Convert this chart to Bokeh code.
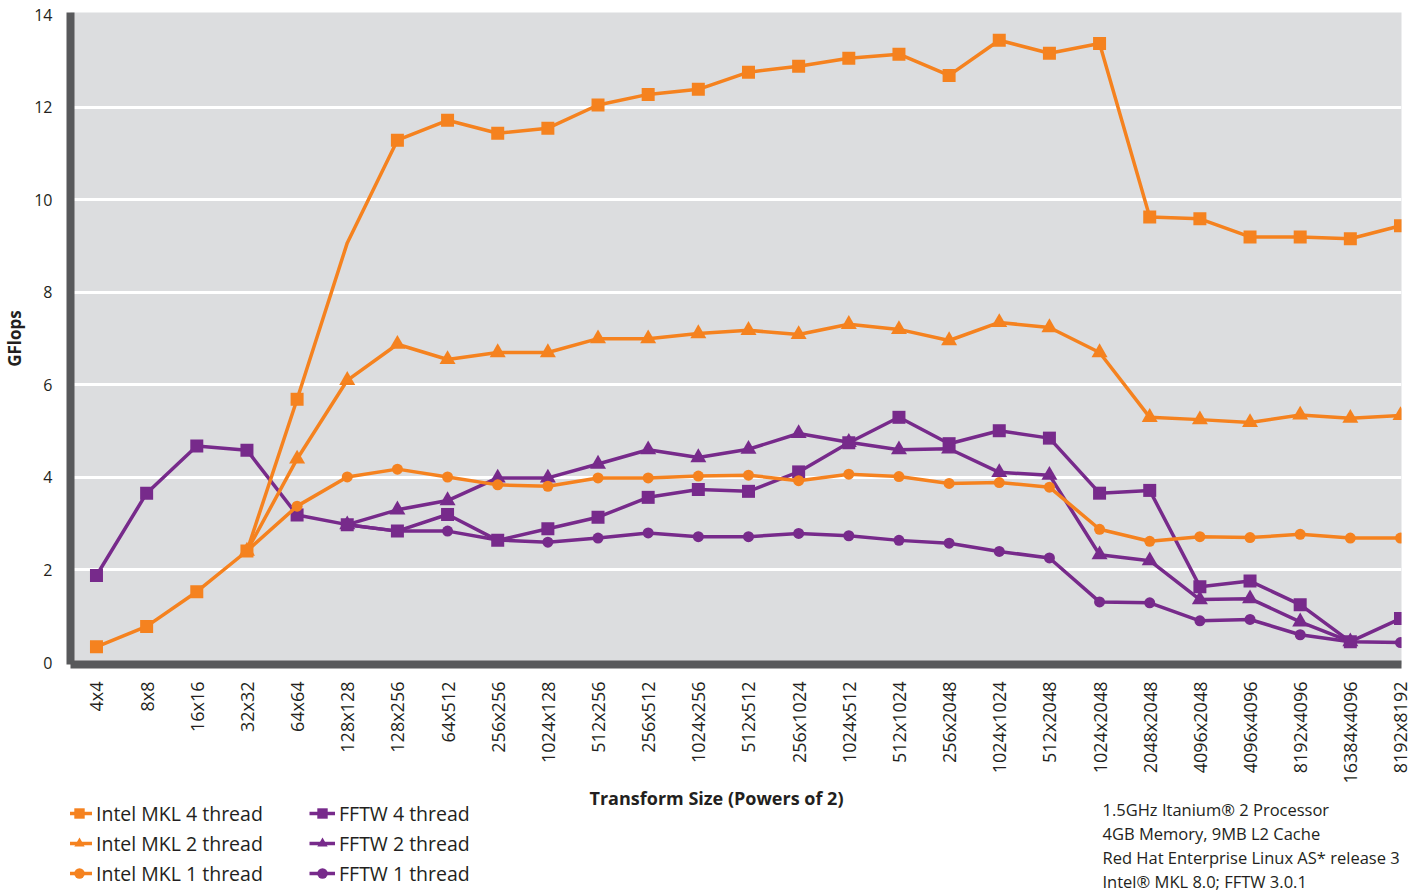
import math
from bokeh.plotting import figure
from bokeh.layouts import column
from bokeh.models import Range1d, FixedTicker, Legend, LegendItem, Label
from bokeh.embed import file_html
from bokeh.resources import INLINE

NAN = float("nan")

sizes = ["4x4", "8x8", "16x16", "32x32", "64x64", "128x128", "128x256", "64x512",
         "256x256", "1024x128", "512x256", "256x512", "1024x256", "512x512",
         "256x1024", "1024x512", "512x1024", "256x2048", "1024x1024", "512x2048",
         "1024x2048", "2048x2048", "4096x2048", "4096x4096", "8192x4096",
         "16384x4096", "8192x8192"]

mkl_4 = [0.34, 0.78, 1.53, 2.41, 5.69, 9.07, 11.29, 11.72, 11.44, 11.55, 12.05,
         12.28, 12.39, 12.76, 12.89, 13.06, 13.15, 12.69, 13.45, 13.17, 13.38,
         9.63, 9.59, 9.20, 9.20, 9.16, 9.44]
mkl_2 = [NAN, NAN, NAN, 2.41, 4.40, 6.10, 6.88, 6.55, 6.70, 6.70, 7.00, 7.00,
         7.11, 7.18, 7.09, 7.31, 7.20, 6.96, 7.35, 7.24, 6.70, 5.30, 5.25, 5.19,
         5.35, 5.28, 5.34]
mkl_1 = [NAN, NAN, NAN, 2.41, 3.38, 4.01, 4.18, 4.01, 3.84, 3.81, 3.99, 3.99,
         4.03, 4.05, 3.93, 4.07, 4.02, 3.87, 3.89, 3.79, 2.88, 2.62, 2.72, 2.70,
         2.77, 2.69, 2.69]
fftw_4 = [1.88, 3.66, 4.68, 4.59, 3.19, 2.98, 2.84, 3.20, 2.64, 2.89, 3.14, 3.57,
          3.74, 3.70, 4.12, 4.75, 5.30, 4.73, 5.01, 4.85, 3.66, 3.72, 1.64, 1.76,
          1.25, 0.45, 0.95]
fftw_2 = [NAN, NAN, NAN, NAN, NAN, 2.98, 3.30, 3.50, 3.99, 3.99, 4.29, 4.60,
          4.43, 4.61, 4.95, 4.76, 4.60, 4.62, 4.11, 4.05, 2.33, 2.20, 1.36, 1.38,
          0.88, 0.45, NAN]
fftw_1 = [NAN, NAN, NAN, NAN, NAN, 2.98, 2.84, 2.84, 2.65, 2.60, 2.69, 2.80,
          2.72, 2.72, 2.79, 2.74, 2.64, 2.58, 2.40, 2.26, 1.31, 1.29, 0.90, 0.93,
          0.60, 0.45, 0.43]

y_ticks = [0, 2, 4, 6, 8, 10, 12, 14]
grid_ticks = [2, 4, 6, 8, 10, 12]

note_lines = ["1.5GHz Itanium® 2 Processor",
              "4GB Memory, 9MB L2 Cache",
              "Red Hat Enterprise Linux AS* release 3",
              "Intel® MKL 8.0; FFTW 3.0.1"]

ORANGE = "#f5821f"
PURPLE = "#772a8b"
TEXT = "#231f20"
FONT = "Open Sans"

xs = list(range(len(sizes)))

# ---------------- main chart ----------------
p = figure(width=1415, height=786, output_backend="svg", toolbar_location=None,
           min_border_left=69, min_border_right=14, min_border_top=12,
           min_border_bottom=120,
           x_range=Range1d(-0.518, 26.02), y_range=Range1d(-0.043, 14.05))
p.background_fill_color = "#dcdddf"
p.border_fill_color = "white"
p.outline_line_color = None

p.xgrid.grid_line_color = None
p.ygrid.ticker = FixedTicker(ticks=grid_ticks)
p.ygrid.grid_line_color = "white"
p.ygrid.grid_line_width = 3

for ax in (p.xaxis[0], p.yaxis[0]):
    ax.axis_line_color = "#58595b"
    ax.axis_line_width = 8
    ax.major_tick_line_color = None
    ax.minor_tick_line_color = None
    ax.major_tick_out = 0
    ax.major_tick_in = 0
    ax.major_label_text_font = FONT
    ax.major_label_text_color = TEXT

p.yaxis.ticker = FixedTicker(ticks=y_ticks)
p.yaxis.major_label_text_font_size = "16px"
p.yaxis.major_label_standoff = 18
p.yaxis.axis_label = "GFlops"
p.yaxis.axis_label_text_font = FONT
p.yaxis.axis_label_text_font_style = "bold"
p.yaxis.axis_label_text_font_size = "17px"
p.yaxis.axis_label_text_color = TEXT
p.yaxis.axis_label_standoff = 5

p.xaxis.ticker = FixedTicker(ticks=xs)
p.xaxis.major_label_overrides = {i: s for i, s in enumerate(sizes)}
p.xaxis.major_label_orientation = math.pi / 2
p.xaxis.major_label_text_font_size = "18px"
p.xaxis.major_label_standoff = 17

series = [
    ("FFTW 1 thread", fftw_1, PURPLE, "circle", 11),
    ("FFTW 2 thread", fftw_2, PURPLE, "triangle", 16),
    ("FFTW 4 thread", fftw_4, PURPLE, "square", 13),
    ("Intel MKL 1 thread", mkl_1, ORANGE, "circle", 11),
    ("Intel MKL 2 thread", mkl_2, ORANGE, "triangle", 16),
    ("Intel MKL 4 thread", mkl_4, ORANGE, "square", 13),
]

for name, vals, color, marker, size in series:
    p.line(xs, vals, line_color=color, line_width=3.5)
    mvals = list(vals)
    if name == "Intel MKL 4 thread":
        mvals[5] = NAN  # no marker drawn at 128x128 in the original
    p.scatter(xs, mvals, marker=marker, size=size, fill_color=color,
              line_color=color, line_width=0)

# ---------------- footer: title, legend, notes ----------------
# (its frame is aligned with the chart's frame by the column layout;
#  the series are drawn here off-view only to serve as legend keys)
f = figure(width=1415, height=107, output_backend="svg", toolbar_location=None,
           min_border_left=0, min_border_right=0, min_border_top=0,
           min_border_bottom=0, x_axis_location=None, y_axis_location=None,
           x_range=Range1d(-200, -100), y_range=Range1d(-200, -100))
f.grid.visible = False
f.outline_line_color = None
f.background_fill_color = "white"
f.border_fill_color = "white"

items = {}
for name, vals, color, marker, size in series:
    ln = f.line(xs, vals, line_color=color, line_width=3.5)
    sc = f.scatter(xs, vals, marker=marker, size=size, fill_color=color,
                   line_color=color, line_width=0)
    items[name] = LegendItem(label=name, renderers=[ln, sc])


def make_legend(names, x):
    leg = Legend(items=[items[n] for n in names], location=(x, 5),
                 orientation="vertical")
    leg.background_fill_alpha = 0
    leg.border_line_color = None
    leg.padding = 0
    leg.margin = 0
    leg.spacing = 0
    leg.glyph_width = 26
    leg.glyph_height = 30
    leg.label_height = 30
    leg.label_standoff = 4
    leg.label_text_font = FONT
    leg.label_text_font_size = "19.5px"
    leg.label_text_color = TEXT
    leg.label_text_baseline = "middle"
    return leg


f.add_layout(make_legend(["Intel MKL 4 thread", "Intel MKL 2 thread",
                          "Intel MKL 1 thread"], -4))
f.add_layout(make_legend(["FFTW 4 thread", "FFTW 2 thread", "FFTW 1 thread"], 239))

f.add_layout(Label(x=646, y=96, x_units="screen", y_units="screen",
                   text="Transform Size (Powers of 2)", text_font=FONT,
                   text_font_style="bold", text_font_size="18px",
                   text_color=TEXT, text_align="center", text_baseline="middle"))

for i, line in enumerate(note_lines):
    f.add_layout(Label(x=1032, y=84 - 24 * i, x_units="screen", y_units="screen",
                       text=line, text_font=FONT, text_font_size="16.5px",
                       text_color=TEXT, text_align="left",
                       text_baseline="middle"))

layout = column(p, f, spacing=0)
open("out.html", "w").write(file_html(layout, INLINE))
